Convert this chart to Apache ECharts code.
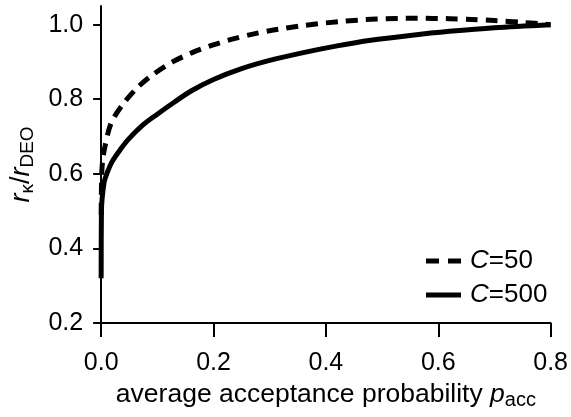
<!DOCTYPE html>
<html>
<head>
<meta charset="utf-8">
<script src="https://cdn.jsdelivr.net/npm/echarts@6/dist/echarts.min.js"></script>
<style>
html,body{margin:0;padding:0;background:#fff;}
#chart{width:571px;height:417px;}
</style>
</head>
<body>
<div id="chart"></div>
<script>
// C=50 (dashed)
const pC50 = [0, 0.001, 0.003, 0.007, 0.018, 0.039, 0.065, 0.092, 0.127, 0.162, 0.198, 0.233, 0.268, 0.304, 0.362, 0.422, 0.49, 0.56, 0.62, 0.66, 0.7, 0.75, 0.8];
const vC50 = [0.49, 0.6, 0.64, 0.675, 0.737, 0.787, 0.832, 0.866, 0.9, 0.925, 0.945, 0.961, 0.974, 0.985, 0.998, 1.008, 1.015, 1.017, 1.016, 1.014, 1.011, 1.006, 1.0];
// C=500 (solid)
const pC500 = [0, 0.0005, 0.005, 0.01, 0.02, 0.035, 0.05, 0.075, 0.1, 0.13, 0.16, 0.2, 0.25, 0.3, 0.36, 0.42, 0.48, 0.55, 0.62, 0.7, 0.8];
const vC500 = [0.32, 0.5, 0.575, 0.6, 0.634, 0.667, 0.695, 0.732, 0.76, 0.792, 0.822, 0.853, 0.882, 0.904, 0.925, 0.943, 0.958, 0.971, 0.982, 0.992, 1.0];
const seriesNames = ['C=50', 'C=500'];
const xTicks = [0, 0.2, 0.4, 0.6, 0.8];
const yTicks = [0.2, 0.4, 0.6, 0.8, 1.0];

const FONT = 'Liberation Sans, Arial, Helvetica, sans-serif';
const chart = echarts.init(document.getElementById('chart'), null, {renderer: 'canvas'});
const pair = (xs, ys) => xs.map((x, i) => [x, ys[i]]);
const option = {
  animation: false,
  backgroundColor: '#fff',
  grid: {left: 98, right: 20, top: 6, bottom: 94, containLabel: false},
  legend: {
    orient: 'vertical',
    left: 421, top: 243,
    itemWidth: 35, itemHeight: 5, itemGap: 8,
    data: [
      {name: seriesNames[0], icon: 'path://M0,0H13V5H0Z M22,0H35V5H22Z'},
      {name: seriesNames[1], icon: 'path://M0,0H35V5H0Z'}
    ],
    itemStyle: {color: '#000'},
    formatter: n => '{i|C}' + n.slice(1),
    textStyle: {
      color: '#000', fontFamily: FONT, fontSize: 26, padding: [0,0,0,4],
      rich: {i: {fontStyle: 'italic', fontFamily: FONT, fontSize: 26, color: '#000'}}
    }
  },
  xAxis: {
    type: 'value', min: 0, max: 0.8, interval: 0.2,
    axisLine: {show: true, onZero: false, lineStyle: {color: '#000', width: 2}},
    axisTick: {show: true, length: 14, lineStyle: {color: '#000', width: 2}, customValues: xTicks},
    axisLabel: {color: '#000', fontFamily: FONT, fontSize: 25, margin: 28, customValues: xTicks,
      formatter: v => v.toFixed(1)},
    splitLine: {show: false},
    name: 'average acceptance probability {i|p}{sub|acc}',
    nameLocation: 'middle', nameGap: 50,
    nameTextStyle: {color: '#000', fontFamily: FONT, fontSize: 26.5,
      rich: {
        i: {fontStyle: 'italic', fontFamily: FONT, fontSize: 26.5, color: '#000'},
        sub: {fontFamily: FONT, fontSize: 20, color: '#000', padding: [13, 0, 0, 0]}
      }}
  },
  yAxis: {
    type: 'value', min: 0.2, max: 1.05,
    axisLine: {show: true, onZero: false, lineStyle: {color: '#000', width: 2}},
    axisTick: {show: true, length: 8, lineStyle: {color: '#000', width: 2}, customValues: yTicks},
    axisLabel: {color: '#000', fontFamily: FONT, fontSize: 25, margin: 18, customValues: yTicks,
      formatter: v => v.toFixed(1)},
    splitLine: {show: false},
    name: '{i|r}{sub|κ}/{i|r}{sub|DEO}',
    nameLocation: 'middle', nameGap: 60,
    nameTextStyle: {color: '#000', fontFamily: FONT, fontSize: 27,
      rich: {
        i: {fontStyle: 'italic', fontFamily: FONT, fontSize: 27, color: '#000'},
        sub: {fontFamily: FONT, fontSize: 19, color: '#000', padding: [13, 0, 0, 0]}
      }}
  },
  series: [
    {name: seriesNames[0], type: 'line', data: pair(pC50, vC50), symbol: 'none', showSymbol: false,
     smooth: 0.3, lineStyle: {color: '#000', width: 5, type: [12, 8]}, itemStyle: {color: '#000'}},
    {name: seriesNames[1], type: 'line', data: pair(pC500, vC500), symbol: 'none', showSymbol: false,
     smooth: 0.3, lineStyle: {color: '#000', width: 5, type: 'solid'}, itemStyle: {color: '#000'}}
  ]
};
chart.setOption(option);
</script>
</body>
</html>
